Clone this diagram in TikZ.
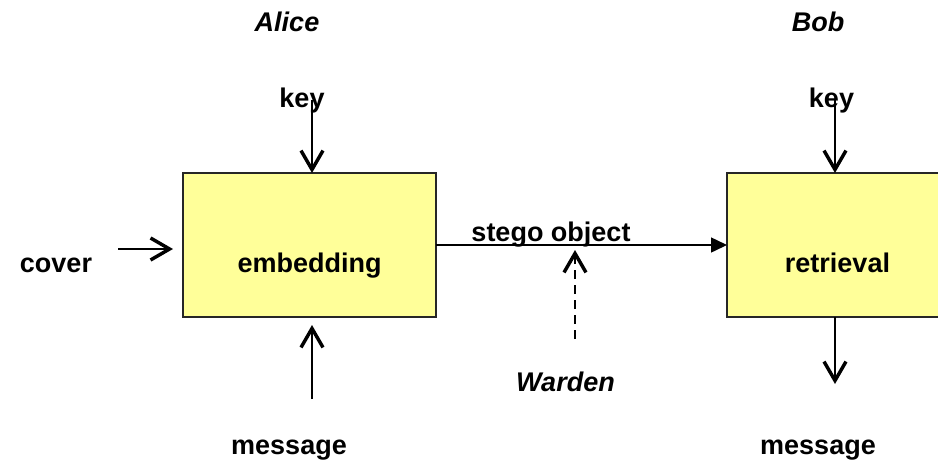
\documentclass[tikz,border=0pt]{standalone}
\usepackage{fontspec}
\setmainfont{Liberation Sans}
\usetikzlibrary{arrows.meta}
\definecolor{boxfill}{RGB}{255,255,153}
\tikzset{
  lbl/.style={inner sep=0pt, anchor=base, font=\fontsize{27}{30}\selectfont\bfseries},
  ilbl/.style={lbl, font=\fontsize{27}{30}\selectfont\bfseries\itshape},
  block/.style={draw=black!85, line width=1.5pt, fill=boxfill},
  flow/.style={line width=1.5pt, -{Straight Barb[length=19pt,width=22pt,line width=0pt 2.3]}},
  main/.style={line width=1.5pt, -{Triangle[length=16pt,width=15pt]}},
  spy/.style={flow, dash pattern=on 9pt off 6pt}
}
\begin{document}
\begin{tikzpicture}[x=1pt,y=-1pt]
  \useasboundingbox (0,0) rectangle (938,459);
  \clip (0,0) rectangle (938,459);

  % the two blocks
  \path[block] (183,173) rectangle (436,317);
  \node (emb) at (309.5,245) {};
  \path[block] (727,173) rectangle (960,317);
  \node (ret) at (838,245) {};

  % labels
  \node[ilbl] (alice) at (287,31) {Alice};
  \node[ilbl] (bob) at (818,31) {Bob};
  \node[lbl] (key1) at (302,107) {key};
  \node[lbl] (key2) at (831.5,107) {key};
  \node[lbl] (embtxt) at (309.5,272) {embedding};
  \node[lbl] (rettxt) at (837.5,272) {retrieval};
  \node[lbl] (cover) at (56,272) {cover};
  \node[lbl] (stego) at (551,241) {stego object};
  \node[ilbl] (warden) at (565.5,391) {Warden};
  \node[lbl] (msg1) at (289,454) {message};
  \node[lbl] (msg2) at (818,454) {message};

  % connector ends
  \coordinate (k1s) at (312,100);
  \coordinate (k1e) at (312,173);
  \coordinate (k2s) at (835,100);
  \coordinate (k2e) at (835,173);
  \coordinate (cs) at (118,249);
  \coordinate (ce) at (173,249);
  \coordinate (ss) at (436,245);
  \coordinate (se) at (727,245);
  \coordinate (ws) at (575,339);
  \coordinate (we) at (575,250);
  \coordinate (ms) at (312,399);
  \coordinate (me) at (312,325);
  \coordinate (os) at (835,317);
  \coordinate (oe) at (835,384);

  % connectors
  \draw[flow] (k1s) -- (k1e);
  \draw[flow] (k2s) -- (k2e);
  \draw[flow] (cs) -- (ce);
  \draw[main] (ss) -- (se);
  \draw[spy] (ws) -- (we);
  \draw[flow] (ms) -- (me);
  \draw[flow] (os) -- (oe);
\end{tikzpicture}
\end{document}
